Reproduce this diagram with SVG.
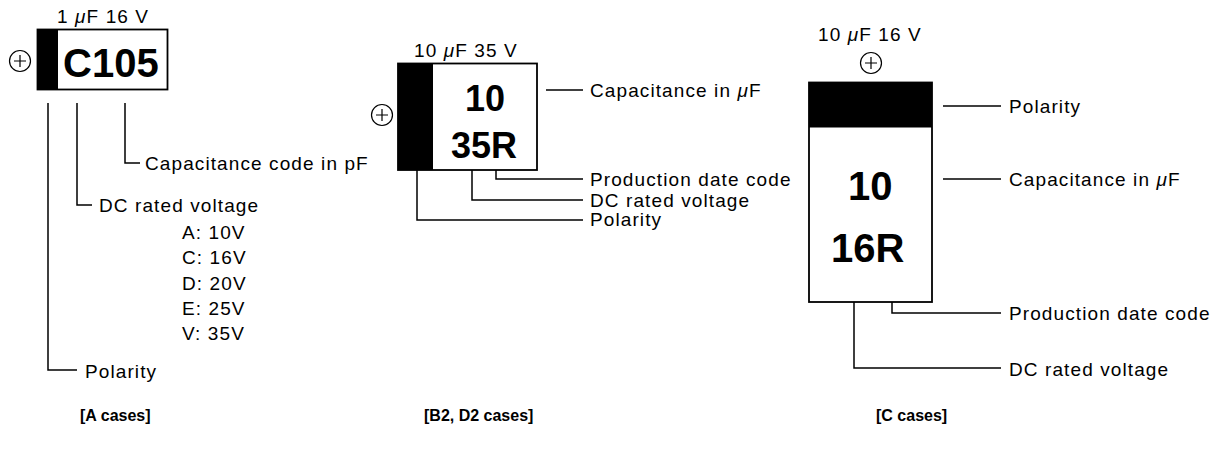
<svg xmlns="http://www.w3.org/2000/svg" width="1224" height="453" viewBox="0 0 1224 453">
<style>
.lbl{font-family:"Liberation Sans",Arial,sans-serif;font-size:19px;letter-spacing:1.1px;fill:#000}
.mu{font-style:italic}
.big{font-family:"Liberation Sans",Arial,sans-serif;font-weight:bold;fill:#000}
.cap{font-family:"Liberation Sans",Arial,sans-serif;font-weight:bold;font-size:16px;fill:#000}
.box{fill:#fff;stroke:#000;stroke-width:1.8}
.band{fill:#000}
.ln{fill:none;stroke:#000;stroke-width:1.5}
.pc{fill:#fff;stroke:#000;stroke-width:1.2}
</style>
<defs>
<g id="plus">
<circle cx="0" cy="0" r="10.5" class="pc"/>
<path d="M-6,0H6M0,-6V6" fill="none" stroke="#000" stroke-width="1.2"/>
</g>
</defs>
<rect width="1224" height="453" fill="#fff"/>

<g id="caseA">
<rect x="37.5" y="29.5" width="130" height="60" class="box"/>
<rect x="37.5" y="29.5" width="20.5" height="60" class="band"/>
<text x="63" y="77" class="big" font-size="40">C105</text>
<text x="57" y="23" class="lbl">1 <tspan class="mu">μ</tspan>F 16 V</text>
<use href="#plus" x="20" y="61"/>
</g>

<g id="caseB">
<rect x="398" y="63.5" width="139" height="106.5" class="box"/>
<rect x="398" y="63.5" width="35" height="106.5" class="band"/>
<text x="465" y="111" class="big" font-size="36">10</text>
<text x="451" y="158" class="big" font-size="36">35R</text>
<text x="414" y="57" class="lbl">10 <tspan class="mu">μ</tspan>F 35 V</text>
<use href="#plus" x="382" y="115"/>
</g>

<g id="caseC">
<rect x="809" y="82.5" width="123" height="219.5" class="box"/>
<rect x="809" y="82.5" width="123" height="45" class="band"/>
<text x="848" y="200" class="big" font-size="40">10</text>
<text x="831" y="262" class="big" font-size="40">16R</text>
<text x="818" y="41" class="lbl">10 <tspan class="mu">μ</tspan>F 16 V</text>
<use href="#plus" x="871" y="63"/>
</g>

<g id="connectors">
<path d="M48,103V370H77" class="ln"/>
<path d="M77,103V205H92" class="ln"/>
<path d="M125,103V163H140" class="ln"/>
<path d="M546,90H583" class="ln"/>
<path d="M496,170V179H583" class="ln"/>
<path d="M472,170V200H583" class="ln"/>
<path d="M417,170V220H583" class="ln"/>
<path d="M943,106H1001" class="ln"/>
<path d="M943,179H1001" class="ln"/>
<path d="M892,302V313H1001" class="ln"/>
<path d="M854,302V368H1001" class="ln"/>
</g>

<g id="labelsA">
<text x="145" y="170" class="lbl">Capacitance code in pF</text>
<text x="99" y="212" class="lbl">DC rated voltage</text>
<text x="182" y="239" class="lbl">A: 10V</text>
<text x="182" y="264" class="lbl">C: 16V</text>
<text x="182" y="290" class="lbl">D: 20V</text>
<text x="182" y="315" class="lbl">E: 25V</text>
<text x="182" y="340" class="lbl">V: 35V</text>
<text x="85" y="378" class="lbl">Polarity</text>
</g>

<g id="labelsB">
<text x="590" y="97" class="lbl">Capacitance in <tspan class="mu">μ</tspan>F</text>
<text x="590" y="186" class="lbl">Production date code</text>
<text x="590" y="207" class="lbl">DC rated voltage</text>
<text x="590" y="226" class="lbl">Polarity</text>
</g>

<g id="labelsC">
<text x="1009" y="113" class="lbl">Polarity</text>
<text x="1009" y="186" class="lbl">Capacitance in <tspan class="mu">μ</tspan>F</text>
<text x="1009" y="320" class="lbl">Production date code</text>
<text x="1009" y="376" class="lbl">DC rated voltage</text>
</g>

<g id="captions">
<text x="80" y="421" class="cap">[A cases]</text>
<text x="424" y="421" class="cap">[B2, D2 cases]</text>
<text x="876" y="421" class="cap">[C cases]</text>
</g>
</svg>
